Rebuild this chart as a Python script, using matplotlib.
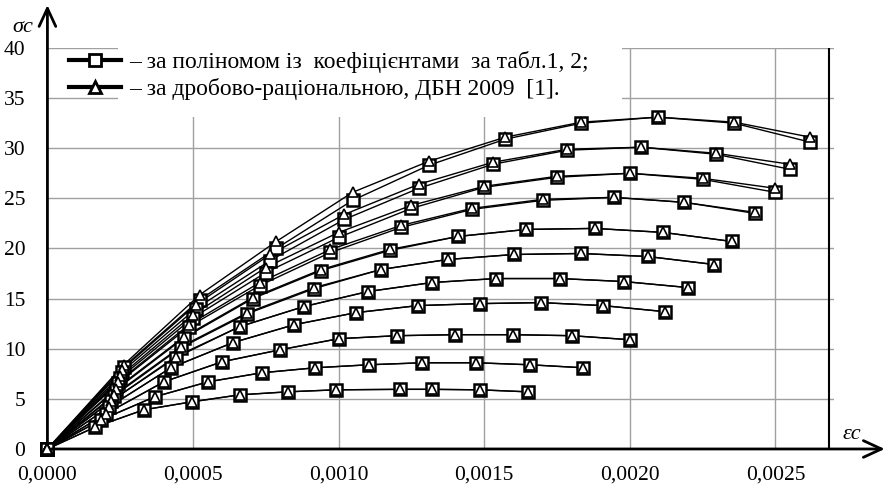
import matplotlib
matplotlib.use("Agg")
import matplotlib.pyplot as plt
from matplotlib.lines import Line2D
from matplotlib.patches import Rectangle

plt.rcParams['font.family'] = ['Liberation Serif', 'DejaVu Serif']

# strain points of each curve (markers), curves from the top one down
strain = [
    [0.000262, 0.000524, 0.000786, 0.001048, 0.00131, 0.001572, 0.001834, 0.002096, 0.002358, 0.00262],
    [0.000255, 0.00051, 0.000765, 0.00102, 0.001275, 0.00153, 0.001785, 0.00204, 0.002295, 0.00255],
    [0.00025, 0.0005, 0.00075, 0.001, 0.00125, 0.0015, 0.00175, 0.002, 0.00225, 0.0025],
    [0.000243, 0.000486, 0.000729, 0.000972, 0.001215, 0.001458, 0.001701, 0.001944, 0.002187, 0.00243],
    [0.000235, 0.00047, 0.000705, 0.00094, 0.001175, 0.00141, 0.001645, 0.00188, 0.002115, 0.00235],
    [0.000229, 0.000458, 0.000687, 0.000916, 0.001145, 0.001374, 0.001603, 0.001832, 0.002061, 0.00229],
    [0.00022, 0.00044, 0.00066, 0.00088, 0.0011, 0.00132, 0.00154, 0.00176, 0.00198, 0.0022],
    [0.000212, 0.000424, 0.000636, 0.000848, 0.00106, 0.001272, 0.001484, 0.001696, 0.001908, 0.00212],
    [0.0002, 0.0004, 0.0006, 0.0008, 0.001, 0.0012, 0.0014, 0.0016, 0.0018, 0.002],
    [0.000184, 0.000368, 0.000552, 0.000736, 0.00092, 0.001104, 0.001288, 0.001472, 0.001656, 0.00184],
    [0.000165, 0.00033, 0.000495, 0.00066, 0.000825, 0.00099, 0.00121, 0.00132, 0.001485, 0.00165],
]
# stress, polynomial with coefficients from tables 1, 2
sigma_poly = [
    [8.2, 14.9, 20.0, 24.8, 28.3, 30.9, 32.5, 33.1, 32.5, 30.6],
    [7.7, 14.0, 18.8, 22.9, 26.0, 28.4, 29.8, 30.1, 29.4, 27.9],
    [7.1, 13.1, 17.6, 21.1, 24.0, 26.1, 27.1, 27.5, 26.9, 25.6],
    [6.6, 12.2, 16.3, 19.6, 22.1, 23.9, 24.8, 25.1, 24.6, 23.5],
    [5.9, 11.1, 15.0, 17.8, 19.8, 21.2, 21.9, 22.0, 21.6, 20.7],
    [5.3, 10.1, 13.5, 16.0, 17.9, 18.9, 19.4, 19.5, 19.2, 18.4],
    [4.8, 9.1, 12.2, 14.2, 15.7, 16.6, 17.0, 17.0, 16.7, 16.1],
    [4.2, 8.1, 10.6, 12.4, 13.6, 14.3, 14.5, 14.6, 14.3, 13.7],
    [3.5, 6.7, 8.7, 9.9, 11.0, 11.3, 11.4, 11.4, 11.3, 10.9],
    [2.9, 5.2, 6.7, 7.6, 8.1, 8.4, 8.6, 8.6, 8.4, 8.1],
    [2.2, 3.9, 4.7, 5.4, 5.7, 5.9, 5.95, 5.95, 5.9, 5.7],
]
# stress, fractional-rational law of DBN 2009
sigma_dbn = [
    [8.4, 15.4, 20.7, 25.6, 28.7, 31.1, 32.6, 33.1, 32.6, 31.1],
    [7.9, 14.4, 19.4, 23.4, 26.4, 28.6, 29.9, 30.1, 29.5, 28.4],
    [7.3, 13.4, 18.1, 21.6, 24.3, 26.2, 27.2, 27.5, 27.0, 26.0],
    [6.7, 12.4, 16.6, 19.9, 22.3, 24.0, 24.9, 25.1, 24.6, 23.6],
    [6.0, 11.2, 15.1, 17.9, 19.9, 21.2, 21.9, 22.0, 21.6, 20.7],
    [5.4, 10.2, 13.6, 16.1, 17.9, 18.9, 19.4, 19.5, 19.2, 18.4],
    [4.8, 9.2, 12.2, 14.2, 15.7, 16.6, 17.0, 17.0, 16.7, 16.1],
    [4.2, 8.1, 10.6, 12.4, 13.6, 14.3, 14.5, 14.6, 14.3, 13.7],
    [3.5, 6.7, 8.7, 9.9, 11.0, 11.3, 11.4, 11.4, 11.3, 10.9],
    [2.9, 5.2, 6.7, 7.6, 8.1, 8.4, 8.6, 8.6, 8.4, 8.1],
    [2.2, 3.9, 4.7, 5.4, 5.7, 5.9, 5.95, 5.95, 5.9, 5.7],
]
x_ticks = [0, 0.0005, 0.0010, 0.0015, 0.0020, 0.0025]
x_labels = ['0,0000', '0,0005', '0,0010', '0,0015', '0,0020', '0,0025']
y_ticks = [0, 5, 10, 15, 20, 25, 30, 35, 40]
legend_labels = ['– за поліномом із  коефіцієнтами  за табл.1, 2;',
                 '– за дробово-раціональною, ДБН 2009  [1].']

fig = plt.figure(figsize=(8.88, 4.96), dpi=100)
ax = fig.add_axes([0.0534, 0.0948, 0.8854, 0.8085])

for e, s in zip(strain, sigma_poly):
    ax.plot([0] + e, [0] + s, color='black', lw=1.0, zorder=2)
for e, s in zip(strain, sigma_dbn):
    ax.plot([0] + e, [0] + s, color='black', lw=1.0, zorder=2)
for e, s in zip(strain, sigma_poly):
    ax.plot([0] + e, [0] + s, ls='none', marker='s', ms=8.5, mfc='white',
            mec='black', mew=1.8, zorder=3, clip_on=False)
for e, s in zip(strain, sigma_dbn):
    ax.plot([0] + e, [0] + s, ls='none', marker='^', ms=7, mfc='white',
            mec='black', mew=1.2, zorder=4, clip_on=False)

ax.set_xlim(0, 0.0027)
ax.set_ylim(0, 40)
ax.set_xticks(x_ticks)
ax.set_xticklabels(x_labels)
ax.set_yticks(y_ticks)
ax.grid(True, color='#a0a0a0', lw=1.0)
ax.set_axisbelow(True)
ax.tick_params(length=0, labelsize=15.5)
ax.tick_params(axis='y', pad=16)
ax.tick_params(axis='x', pad=12)
for sp in ax.spines.values():
    sp.set_visible(False)

# axes with arrows
ax.annotate('', xy=(1.065, 0), xytext=(0, 0), xycoords='axes fraction',
            arrowprops=dict(arrowstyle='->,head_length=1.3,head_width=0.6',
                            lw=2, color='black', shrinkA=0, shrinkB=0),
            annotation_clip=False)
ax.annotate('', xy=(0, 1.107), xytext=(0, 0), xycoords='axes fraction',
            arrowprops=dict(arrowstyle='->,head_length=1.3,head_width=0.6',
                            lw=2, color='black', shrinkA=0, shrinkB=0),
            annotation_clip=False)
ax.axvline(0.002684, color='black', lw=1.5, zorder=2)
ax.text(-0.031, 1.052, 'σc', transform=ax.transAxes, fontsize=16,
        style='italic', ha='center', va='center')
ax.text(1.023, 0.037, 'εc', transform=ax.transAxes, fontsize=16,
        style='italic', ha='center', va='center')

# white box behind the legend text
ax.add_patch(Rectangle((0.0898, 0.828), 0.641, 0.2, transform=ax.transAxes,
                       facecolor='white', edgecolor='none', zorder=1))
handles = [
    Line2D([], [], color='black', lw=3, marker='s', ms=8, mfc='white', mec='black', mew=2),
    Line2D([], [], color='black', lw=3, marker='^', ms=8, mfc='white', mec='black', mew=2),
]
ax.legend(handles, legend_labels, loc='upper left', bbox_to_anchor=(0.0, 1.045),
          frameon=False, fontsize=17, handlelength=2.2, handletextpad=0.35,
          labelspacing=0.2, borderaxespad=0.5)

fig.savefig('out.png', dpi=100)
